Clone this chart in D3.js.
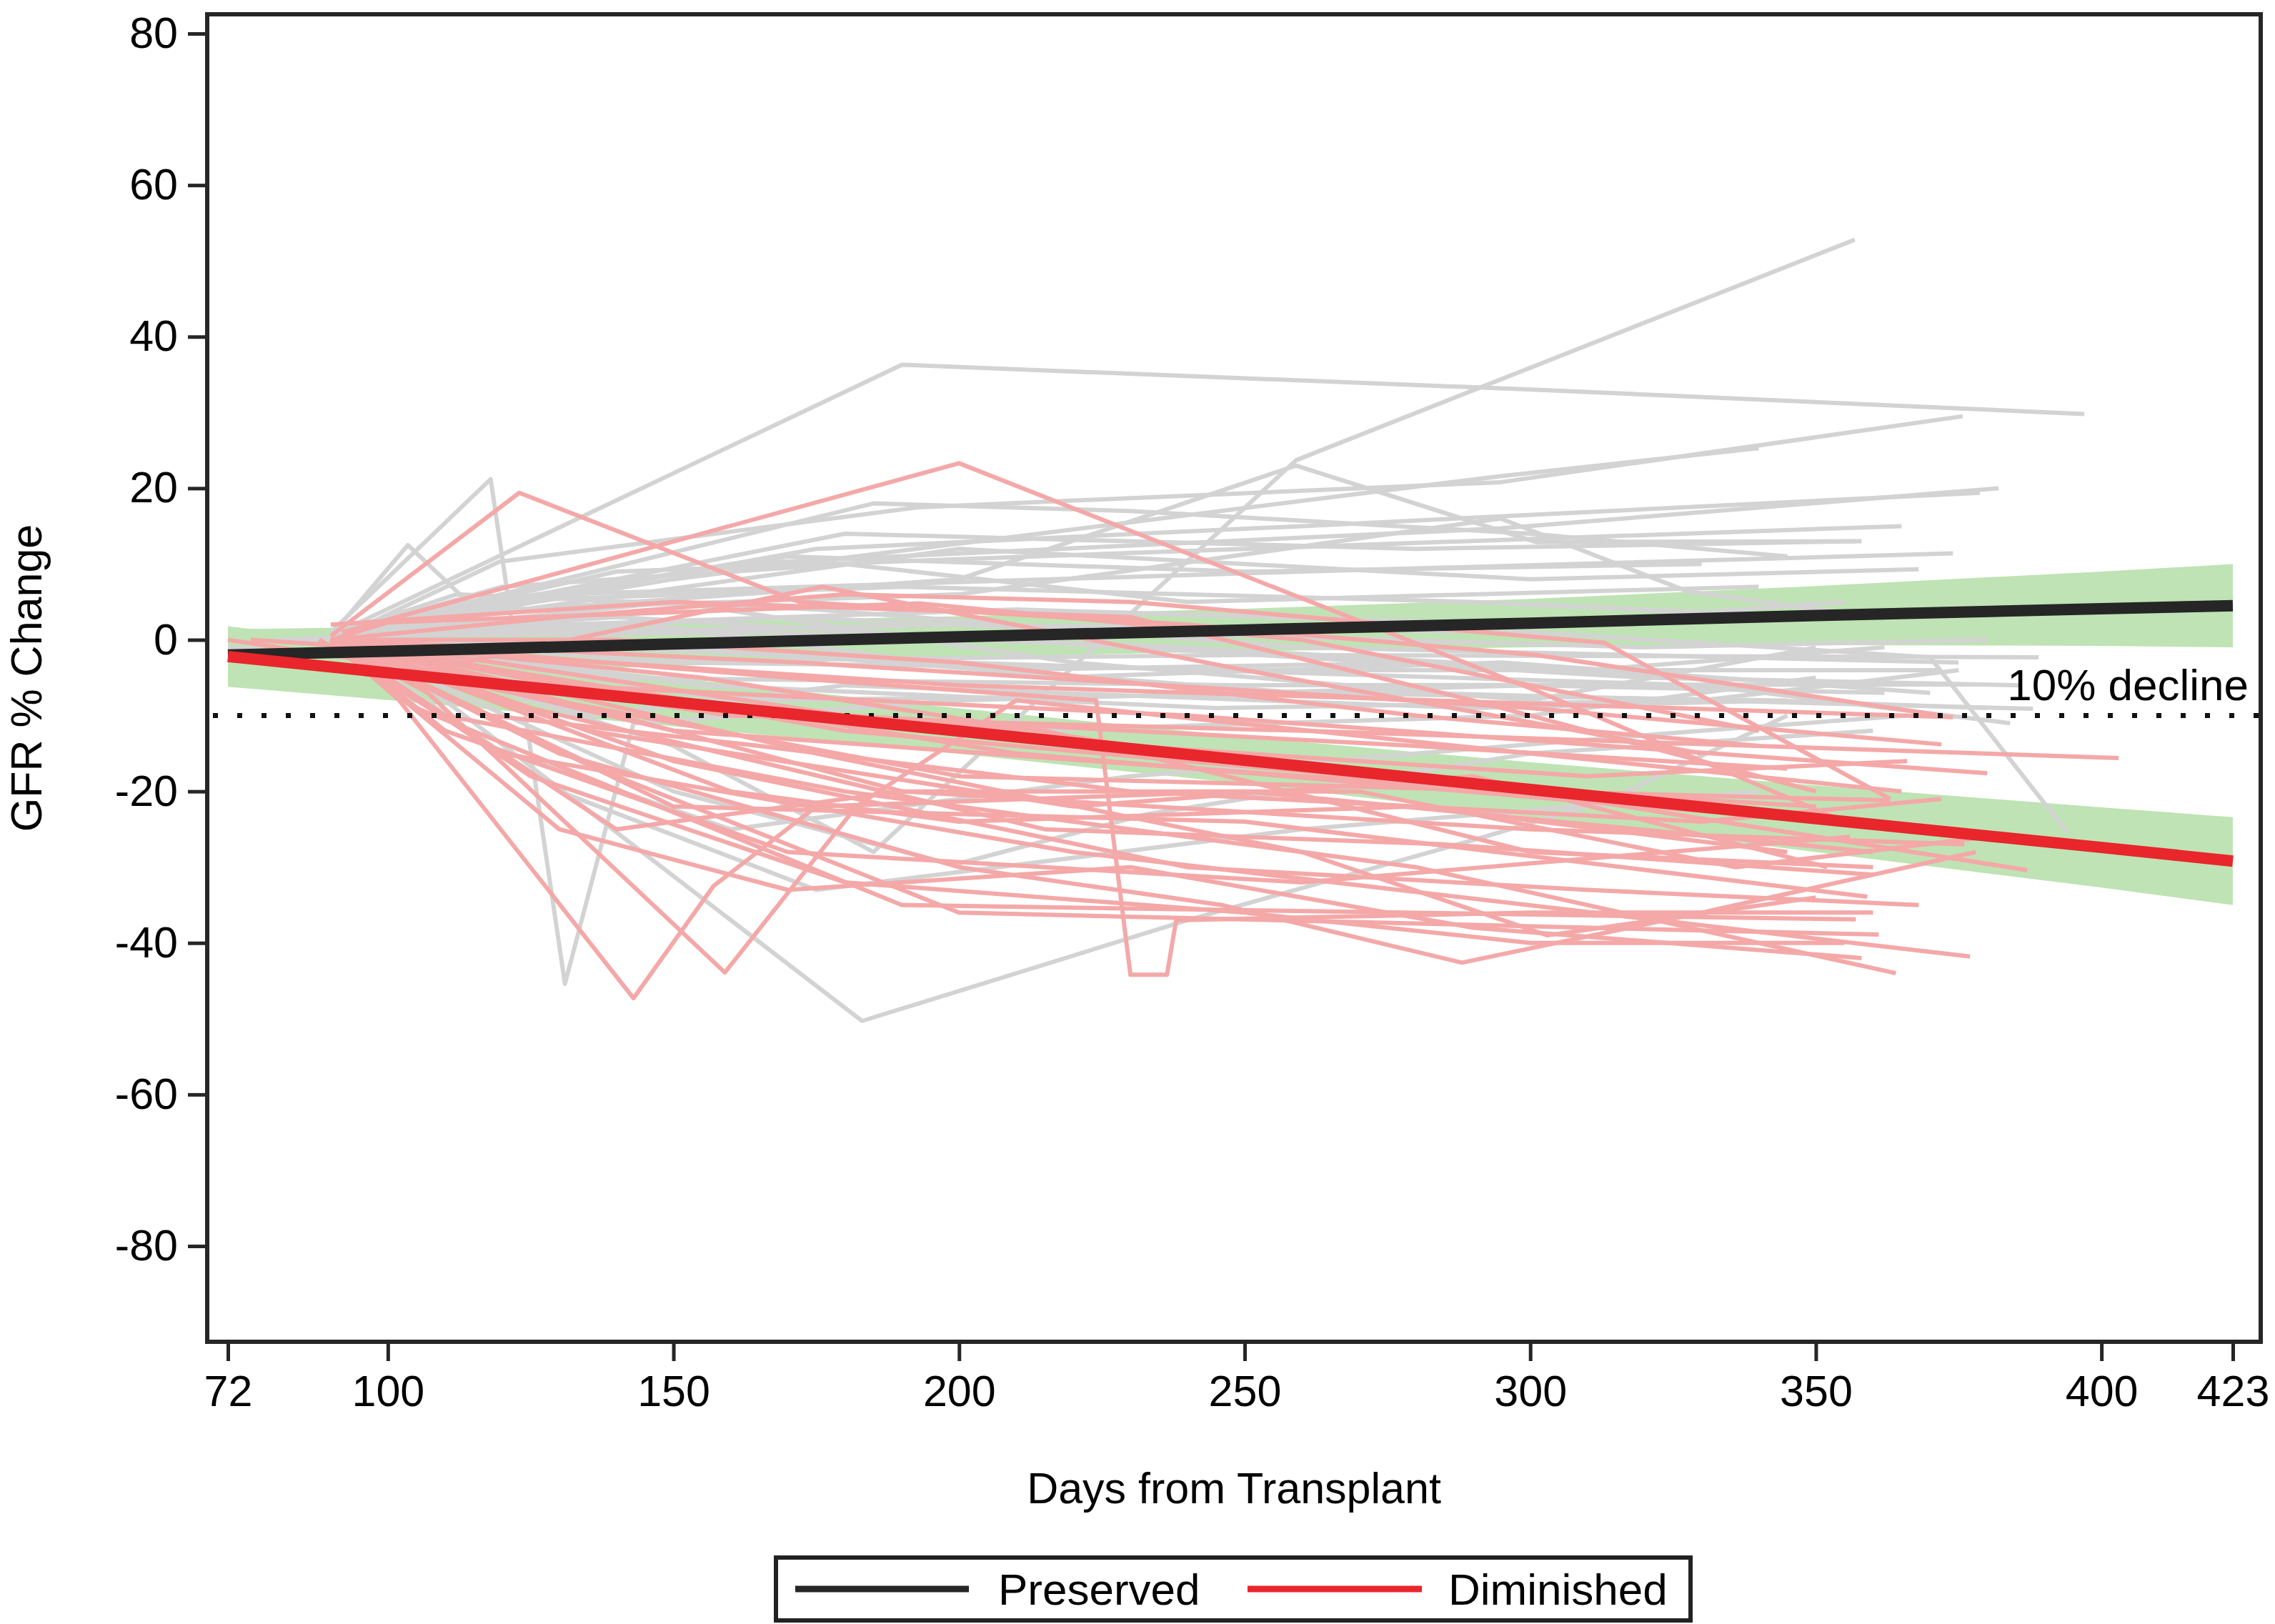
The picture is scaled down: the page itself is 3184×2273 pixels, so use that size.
<!DOCTYPE html>
<html><head><meta charset="utf-8">
<script src="https://cdn.jsdelivr.net/npm/d3@7"></script>
<style>html,body{margin:0;padding:0;background:#fff;} text{font-family:"Liberation Sans",Arial,sans-serif;fill:#000;}</style>
</head><body>
<svg id="c" width="3184" height="2273"></svg>
<script>
// ---------- data ----------
const xTicks = [72,100,150,200,250,300,350,400,423];
const yTicks = [80,60,40,20,0,-20,-40,-60,-80];
const xTitle = "Days from Transplant";
const yTitle = "GFR % Change";
const refValue = -10;
const refLabel = "10% decline";
const groupNames = ["Preserved","Diminished"];

// fitted means and confidence bands
const fitDays = [72,100,150,200,250,300,350,400,423];
const preservedMean  = [-2.0,-1.5,-0.55,0.4,1.3,2.2,3.2,4.1,4.5];
const preservedUpper = [1.4,1.7,2.35,3.1,4.1,5.4,7.1,9.0,10.0];
const preservedLower = [-5.4,-4.7,-3.45,-2.3,-1.5,-1.0,-0.7,-0.8,-1.0];
const diminishedMean  = [-2.2,-4.35,-8.2,-12.05,-15.9,-19.75,-23.6,-27.4,-29.2];
const diminishedUpper = [1.8,-0.75,-5.0,-9.05,-12.8,-16.15,-19.2,-22.1,-23.4];
const diminishedLower = [-6.2,-7.95,-11.4,-15.05,-19.0,-23.35,-28.0,-32.7,-35.0];

// individual patients: [day, % change]
const preservedPatients = [
 [[90,1],[118,21.2],[131,-45.4],[143,-11],[200,-8],[300,-6],[362,-7]],
 [[90,0.5],[190,36.3],[301,33],[397,29.8]],
 [[90,0.5],[150,-14],[185,-28],[259,23.7],[356.8,52.8]],
 [[90,0.5],[103.5,12.5],[116,3.6],[200,8],[259,23],[301,12.9],[358,13]],
 [[92,0.5],[119.5,10.3],[193,17.5],[294.8,20.8],[375.7,29.5]],
 [[90,0.5],[150,8],[294.8,21.6],[340,25.3]],
 [[90,0.5],[160,10],[294.8,14.7],[382,20]],
 [[90,0.5],[175,12],[260,15],[378.7,19.4]],
 [[90,0.5],[140,9],[250,12],[365,15]],
 [[90,0.5],[180,14],[280,12],[357,13]],
 [[90,0.5],[130,6],[260,9],[374,11.4]],
 [[90,0.5],[200,12],[300,8],[368,9.3]],
 [[90,0.5],[110,-8],[183,-50.3],[240,-37],[292,-26],[314,-21],[345,-10]],
 [[90,0.5],[150,-20],[199,-29.7],[233,-23],[300,-15],[360,-12]],
 [[90,0.5],[200,2],[300,1],[370,-2.3],[394,-25.4]],
 [[90,0.5],[120,4],[200,6],[294.8,16],[327.5,6.4],[360,3]],
 [[72,-1],[125,-3],[250,-2],[389,-2.3]],
 [[90,0.5],[140,-5],[250,-6],[378.7,-5.9]],
 [[90,0.5],[160,-8],[280,-7],[388,-9.1]],
 [[90,0.5],[130,2],[210,4],[300,2],[355,5]],
 [[90,0.5],[115,5],[190,7],[290,5],[350,3]],
 [[90,0.5],[150,-3],[260,-4],[372,-4]],
 [[90,0.5],[135,-10],[180,-6],[290,-9],[345,-8]],
 [[90,0.5],[110,-12],[160,-25],[230,-18],[330,-12],[366,-10]],
 [[80,0],[170,3],[230,1],[320,-1],[380,0]],
 [[90,0.5],[120,7],[180,10],[240,5],[340,7]],
 [[90,0.5],[130,-20],[175,-33],[260,-25],[340,-20]],
 [[90,0.5],[150,5],[220,-3],[300,-8],[350,-1]],
 [[90,0.5],[100,3],[170,11],[250,9],[330,10]],
 [[90,0.5],[200,-3],[330,-6],[384,-11]],
 [[90,0.5],[112,6],[175,4],[260,-1],[375,-3]],
 [[90,0.5],[140,-8],[210,-12],[300,-10],[350,-5]],
 [[90,0.5],[185,18],[230,17],[300,14],[345,11]],
 [[90,0.5],[165,1],[240,-1],[310,-4],[362,-1]],
 [[85,0],[145,2],[215,-5],[295,-3],[370,-7]],
 [[90,0.5],[170,-2],[260,-7],[342,-8],[380,-9]],
 [[90,0.5],[125,1],[205,-4],[285,-3],[355,-6]],
 [[90,0.5],[155,-6],[245,-9],[330,-8],[375,-4]],
 [[90,0.5],[140,3],[230,-1],[320,-5],[386,-6]]
];
const diminishedPatients = [
 [[90,0.5],[123,19.4],[172,5],[240,2],[301,-2],[372,-10]],
 [[92,1],[200,23.3],[301,-6.7],[355,-24]],
 [[90,0],[102,-8],[143,-47.3],[157,-32.5],[175,-22],[250,-20],[360,-28]],
 [[90,0],[107,-7],[159,-43.9],[182,-22],[210,-8],[300,-15],[365,-20]],
 [[90,0],[170,-5],[224,-8],[230,-44.2],[236.4,-44.2],[238,-37],[300,-36],[360,-36]],
 [[90,0],[130,-15],[200,-30],[246,-35],[288,-42.6],[330,-36],[378,-28]],
 [[88,0],[110,-10],[180,-20],[280,-30],[364,-44]],
 [[88,0],[120,-15],[220,-28],[377,-41.8]],
 [[90,0],[140,-18],[200,-36],[361,-38.9]],
 [[90,0],[105,-9],[190,-35],[357,-36.9]],
 [[90,0],[150,-22],[250,-24],[359,-33.9]],
 [[90,0],[180,-12],[300,-20],[387,-30.4]],
 [[72,0],[160,-10],[260,-12],[403,-15.6]],
 [[90,0],[130,-6],[240,-10],[380,-17.6]],
 [[90,0],[172,-3],[300,-9],[372,-13.8]],
 [[76,0],[200,-6],[374,-10.2]],
 [[90,0],[115,-6],[200,-18],[363,-21.2]],
 [[90,0],[130,3],[180,6],[230,5],[313,-0.4],[363,-21]],
 [[90,2],[150,5],[230,3],[290,-8],[350,-20]],
 [[90,0],[110,-12],[170,-28],[260,-32],[356,-26]],
 [[90,0],[140,-25],[190,-20],[300,-25],[376,-27]],
 [[90,0],[100,2.3],[193,4.8],[260,0],[340,-12]],
 [[90,0],[120,-4],[210,-15],[320,-22],[370,-25]],
 [[90,0],[135,-12],[220,-22],[290,-18],[352,-30]],
 [[90,0],[150,-16],[240,-30],[310,-33],[368,-35]],
 [[90,0],[110,-2],[180,-10],[280,-14],[345,-17]],
 [[90,0],[125,-18],[180,-32],[250,-36],[300,-40],[355,-40]],
 [[90,0],[145,-8],[215,-12],[300,-28],[360,-30]],
 [[90,0],[175,-15],[260,-28],[303,-39],[350,-34]],
 [[90,0],[118,-10],[165,-14],[230,-20],[330,-24],[372,-21]],
 [[90,0],[140,0],[200,-3],[280,-10],[340,-14]],
 [[90,0],[160,-20],[200,-24],[280,-22],[345,-28]],
 [[90,0],[130,-25],[170,-33],[230,-30],[290,-38],[358,-42]],
 [[90,0],[113,-3],[176,7],[250,-4],[330,-15]],
 [[90,0],[155,-5],[230,-14],[310,-18],[366,-16]],
 [[90,0],[105,-4],[150,-12],[260,-18],[350,-22]],
 [[90,0],[190,-20],[270,-20],[336,-30],[380,-26]],
 [[90,0],[125,-9],[215,-25],[285,-27],[360,-31]]
];

// ---------- drawing ----------
const svg = d3.select("#c");
const frame = {l:290, r:3164, t:20, b:1878};
const x = d3.scaleLinear().domain([72,423]).range([319,3125]);
const y = d3.scaleLinear().domain([80,-80]).range([47,1744]);

const gPlot = svg.append("g");
gPlot.append("rect").attr("x",frame.l).attr("y",frame.t).attr("width",frame.r-frame.l).attr("height",frame.b-frame.t).attr("fill","#fff");

const bandColor = "#bfe3b4";
function band(lo, hi){
  const data = fitDays.map((d,i)=>({d, lo:lo[i], hi:hi[i]}));
  gPlot.append("path").datum(data)
    .attr("d", d3.area().x(p=>x(p.d)).y0(p=>y(p.lo)).y1(p=>y(p.hi)))
    .attr("fill", bandColor);
}
band(preservedLower, preservedUpper);
band(diminishedLower, diminishedUpper);

const line = d3.line().x(p=>x(p[0])).y(p=>y(p[1]));
gPlot.append("g").selectAll("path").data(preservedPatients).join("path")
  .attr("d", line).attr("fill","none").attr("stroke","#d3d3d3").attr("stroke-width",6).attr("stroke-linejoin","round");
gPlot.append("g").selectAll("path").data(diminishedPatients).join("path")
  .attr("d", line).attr("fill","none").attr("stroke","#f4a8a8").attr("stroke-width",6).attr("stroke-linejoin","round");

// reference line
gPlot.append("line").attr("x1",frame.l+8).attr("x2",frame.r-3).attr("y1",y(refValue)).attr("y2",y(refValue))
  .attr("stroke","#111").attr("stroke-width",7).attr("stroke-dasharray","7,27");
gPlot.append("text").attr("x",3147).attr("y",y(refValue)-22).attr("text-anchor","end")
  .attr("font-size",62).text(refLabel);

// means
const meanLine = arr => d3.line().x((d,i)=>x(fitDays[i])).y(d=>y(d))(arr);
gPlot.append("path").attr("d", meanLine(preservedMean)).attr("fill","none").attr("stroke","#262626").attr("stroke-width",16);
gPlot.append("path").attr("d", meanLine(diminishedMean)).attr("fill","none").attr("stroke","#e8262c").attr("stroke-width",16);

// frame
svg.append("rect").attr("x",frame.l).attr("y",frame.t).attr("width",frame.r-frame.l).attr("height",frame.b-frame.t)
  .attr("fill","none").attr("stroke","#262626").attr("stroke-width",6);

// axes
const ax = svg.append("g").attr("transform",`translate(0,${frame.b})`)
  .call(d3.axisBottom(x).tickValues(xTicks).tickSize(27).tickPadding(20).tickFormat(d3.format("d")));
const ay = svg.append("g").attr("transform",`translate(${frame.l},0)`)
  .call(d3.axisLeft(y).tickValues(yTicks).tickSize(27).tickPadding(14).tickFormat(d=>d<0?"-"+Math.abs(d):d));
[ax,ay].forEach(a=>{
  a.select(".domain").remove();
  a.selectAll(".tick line").attr("stroke","#262626").attr("stroke-width",5);
  a.selectAll(".tick text").attr("font-size",61).attr("fill","#000").attr("font-family","Liberation Sans, Arial, sans-serif");
});

svg.append("text").attr("x",(frame.l+frame.r)/2).attr("y",2104).attr("text-anchor","middle").attr("font-size",61).text(xTitle);
svg.append("text").attr("transform",`translate(58,${(frame.t+frame.b)/2}) rotate(-90)`).attr("text-anchor","middle").attr("font-size",61).text(yTitle);

// legend
const lg = svg.append("g");
lg.append("rect").attr("x",1086).attr("y",2180).attr("width",1280).attr("height",88).attr("fill","#fff").attr("stroke","#222").attr("stroke-width",6);
lg.append("line").attr("x1",1113).attr("x2",1356).attr("y1",2224).attr("y2",2224).attr("stroke","#262626").attr("stroke-width",9);
lg.append("text").attr("x",1397).attr("y",2246).attr("font-size",62).text(groupNames[0]);
lg.append("line").attr("x1",1746).attr("x2",1990).attr("y1",2224).attr("y2",2224).attr("stroke","#e8262c").attr("stroke-width",9);
lg.append("text").attr("x",2027).attr("y",2246).attr("font-size",62).text(groupNames[1]);
</script>
</body></html>
